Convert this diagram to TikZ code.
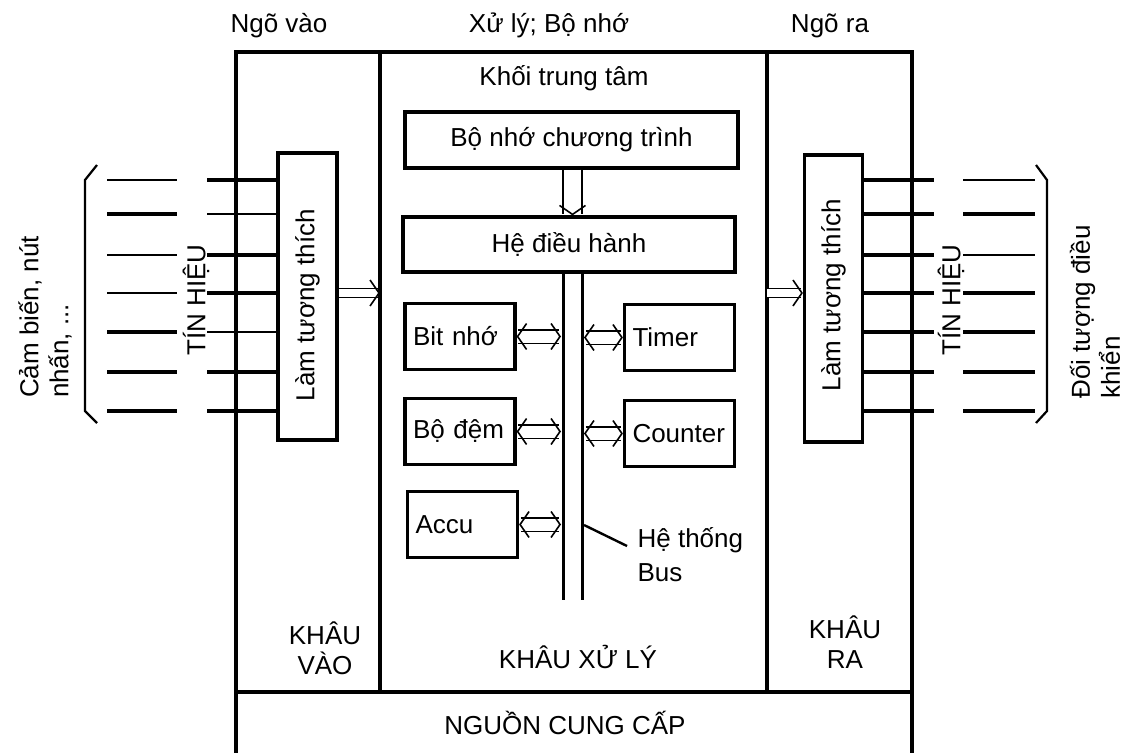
\documentclass[tikz,border=0pt]{standalone}
\usepackage{fontspec}
\setmainfont{Liberation Sans}
\usetikzlibrary{arrows.meta}

\tikzset{
  box/.style={draw, line width=3.2pt, inner sep=0pt},
  unit/.style={box, minimum width=110pt, minimum height=66pt, text width=94pt, align=left},
  darr/.style={double, double distance=#1, line width=1.6pt,
    {Straight Barb[length=9pt,width=26pt]}-{Straight Barb[length=9pt,width=26pt]}},
  sarr/.style={double, double distance=#1, line width=1.6pt,
    -{Straight Barb[length=9pt,width=26pt]}},
  bus/.style={double, double distance=16pt, line width=3pt},
}

\begin{document}
\begin{tikzpicture}[x=1pt, y=-1pt, line width=3.2pt,
    every node/.style={font=\fontsize{26}{30}\selectfont, inner sep=0pt}]
    \useasboundingbox (0,0) rectangle (1126,752);

    % khung ngoai
    \draw (236,52) rectangle (380,692);
    \draw (380,52) rectangle (767,692);
    \draw (767,52) rectangle (912,692);
    \draw (236,692) rectangle (912,790);

    \node[anchor=base] (tin) at (279,33) {Ngõ vào};
    \node[anchor=base] (txl) at (549,33) {Xử lý; Bộ nhớ};
    \node[anchor=base] (tout) at (830,33) {Ngõ ra};
    \node[anchor=base] (tcpu) at (564,85) {Khối trung tâm};

    % khau vao
    \node[box, minimum width=59pt, minimum height=287pt] (inbox) at (307.5,296.5) {};
    \node[rotate=90] at (307.5,305) {Làm tương thích};
    \foreach \y/\wa/\wb in {180/1.6/3.2, 214/3.2/1.6, 255/1.6/3.2, 293/1.6/3.2,
                            332/3.2/1.6, 372/3.2/3.2, 411/3.2/3.2}{
        \draw[line width=\wa pt] (107,\y) -- (177,\y);
        \draw[line width=\wb pt] (207,\y) -- (inbox.west |- 0,\y);
    }
    \draw[line width=2.2pt] (97,165) -- (85,180) -- (85,411) -- (97,423);
    \node[rotate=90] (sigin) at (196,300) {TÍN HIỆU};
    \node[rotate=90, align=left] (sensor) at (45,317) {Cảm biến, nút\\nhấn, ...};
    \coordinate (incol) at (380,293);
    \draw[sarr=7.5pt] (inbox.east |- incol) -- (incol);
    \node[align=center] (kvao) at (325,648) {KHÂU\\VÀO};

    % khau xu ly
    \node[box, minimum width=333pt, minimum height=56pt] (prog) at (571.5,140) {Bộ nhớ chương trình};
    \node[box, minimum width=332pt, minimum height=55pt] (os) at (569,244.5) {Hệ điều hành};
    \draw[sarr=17pt] (prog.south -| 572.5,0) -- (os.north -| 572.5,0);
    \coordinate (busend) at (572.5,600);
    \draw[bus] (busend |- os.south) -- (busend);
    \coordinate (busL) at (561,0);
    \coordinate (busR) at (584,0);

    \node[unit] (bit) at (460,336.5) {Bit nhớ};
    \node[unit] (timer) at (679.5,337.5) {Timer};
    \node[unit] (buf) at (460,431.5) {Bộ đệm};
    \node[unit] (cnt) at (679.5,433.5) {Counter};
    \node[unit] (accu) at (462.5,524.5) {Accu};

    \draw[darr=12pt] (bit.east) -- (bit.east -| busL);
    \draw[darr=12pt] (buf.east) -- (buf.east -| busL);
    \draw[darr=12pt] (accu.east) -- (accu.east -| busL);
    \draw[darr=12pt] (timer.west -| busR) -- (timer.west);
    \draw[darr=12pt] (cnt.west -| busR) -- (cnt.west);

    \node[anchor=west, align=left] (bustxt) at (636,555) {Hệ thống\\[4pt]Bus};
    \draw[line width=2.4pt] (busR |- 0,525) -- (627,546);
    \node (kxl) at (578,657) {KHÂU XỬ LÝ};

    % khau ra
    \node[box, minimum width=58pt, minimum height=287pt] (outbox) at (833.5,298.5) {};
    \node[rotate=90] at (833.5,295) {Làm tương thích};
    \foreach \y/\wa/\wb in {180/3.2/1.6, 214/3.2/3.2, 255/3.2/1.6, 293/3.2/3.2,
                            332/3.2/3.2, 372/3.2/3.2, 411/3.2/3.2}{
        \draw[line width=\wa pt] (outbox.east |- 0,\y) -- (934,\y);
        \draw[line width=\wb pt] (963,\y) -- (1035,\y);
    }
    \draw[line width=2.2pt] (1036,165) -- (1047,180) -- (1047,411) -- (1036,423);
    \node[rotate=90] (sigout) at (951,300) {TÍN HIỆU};
    \node[rotate=90, align=left] (plant) at (1095,312) {Đối tượng điều\\khiển};
    \coordinate (outcol) at (767,293);
    \draw[sarr=7.5pt] (outcol) -- (outbox.west |- outcol);
    \node[align=center] (kra) at (845,642) {KHÂU\\RA};

    % nguon
    \node (psu) at (565,723) {NGUỒN CUNG CẤP};
\end{tikzpicture}
\end{document}
